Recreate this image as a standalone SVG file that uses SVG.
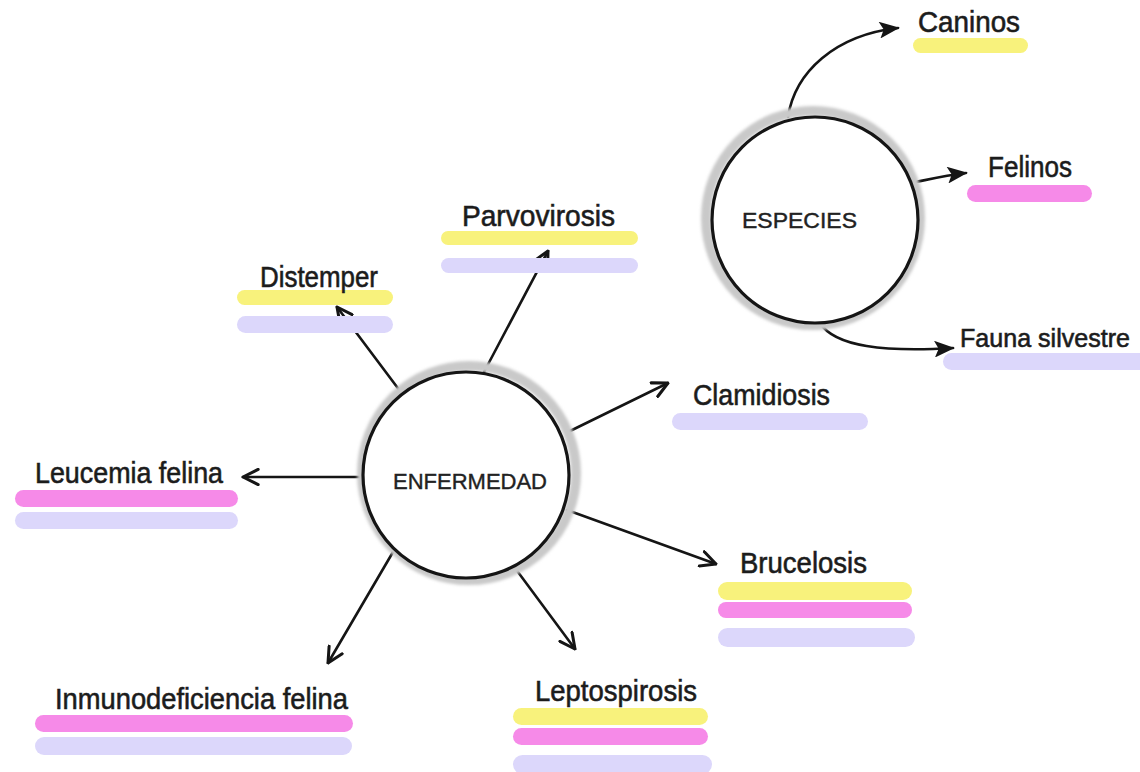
<svg xmlns="http://www.w3.org/2000/svg" width="1140" height="772" viewBox="0 0 1140 772">
<defs>
<style>
.lbl{font-family:"Liberation Sans","DejaVu Sans",sans-serif;font-size:30px;fill:#1c1c1c;stroke:#1c1c1c;stroke-width:0.6;}
.ctr{font-family:"Liberation Sans","DejaVu Sans",sans-serif;font-size:22px;fill:#222;stroke:#222;stroke-width:0.4;}
.y{fill:#f8f27c;}
.p{fill:#f68ae8;}
.l{fill:#dcd7fb;}
.edge{fill:none;stroke:#151515;stroke-width:2.6;stroke-linecap:round;}
.ring{fill:#fff;stroke:#151515;stroke-width:3.2;}
.shadow{fill:none;stroke:#c9c9c9;stroke-width:10;}
</style>
<marker id="open" viewBox="0 0 12 12" refX="11" refY="6" markerWidth="7" markerHeight="7" markerUnits="strokeWidth" orient="auto">
<path d="M1,1 L11,6 L1,11" fill="none" stroke="#151515" stroke-width="2" stroke-linecap="round" stroke-linejoin="round"/>
</marker>
<marker id="solid" viewBox="0 0 12 10" refX="11" refY="5" markerWidth="8" markerHeight="6.5" markerUnits="strokeWidth" orient="auto">
<path d="M0,0 L12,5 L0,10 L2.5,5 Z" fill="#151515"/>
</marker>
<filter id="blur" x="-20%" y="-20%" width="140%" height="140%"><feGaussianBlur stdDeviation="1.5"/></filter>
</defs>
<rect width="1140" height="772" fill="#fff"/>

<g id="connectors">
<line class="edge" x1="400" y1="391" x2="337" y2="307" marker-end="url(#open)"/>
<line class="edge" x1="484" y1="372" x2="548" y2="251" marker-end="url(#open)"/>
<line class="edge" x1="568" y1="432" x2="668" y2="383" marker-end="url(#open)"/>
<line class="edge" x1="363" y1="477" x2="243" y2="477" marker-end="url(#open)"/>
<line class="edge" x1="567" y1="510" x2="716" y2="564" marker-end="url(#open)"/>
<line class="edge" x1="515" y1="568" x2="575" y2="649" marker-end="url(#open)"/>
<line class="edge" x1="393" y1="552" x2="328" y2="663" marker-end="url(#open)"/>
<path class="edge" d="M788,117 C795,72 835,35 898,28" marker-end="url(#solid)"/>
<path class="edge" d="M916,182 C935,178 948,175 966,173" marker-end="url(#solid)"/>
<path class="edge" d="M820,323 C835,347 885,352 953,348" marker-end="url(#solid)"/>
</g>

<g id="enfermedad">
<circle class="shadow" cx="469" cy="473" r="107" filter="url(#blur)"/>
<circle class="ring" cx="466" cy="475" r="103"/>
<text class="ctr" x="393" y="489" textLength="154" lengthAdjust="spacingAndGlyphs">ENFERMEDAD</text>
</g>

<g id="especies">
<circle class="shadow" cx="813" cy="218" r="107" filter="url(#blur)"/>
<circle class="ring" cx="815" cy="220" r="103"/>
<text class="ctr" x="742" y="228" textLength="115" lengthAdjust="spacingAndGlyphs">ESPECIES</text>
</g>

<g id="caninos">
<rect class="y" x="913" y="38" width="115" height="15" rx="7.5"/>
<text class="lbl" x="918" y="32" textLength="102" lengthAdjust="spacingAndGlyphs">Caninos</text>
</g>

<g id="felinos">
<rect class="p" x="967" y="185" width="125" height="17" rx="8.5"/>
<text class="lbl" x="988" y="177" textLength="84" lengthAdjust="spacingAndGlyphs">Felinos</text>
</g>

<g id="fauna-silvestre">
<rect class="l" x="943" y="353" width="210" height="17" rx="8.5"/>
<text class="lbl" x="960" y="347" style="font-size:26px" textLength="170" lengthAdjust="spacingAndGlyphs">Fauna silvestre</text>
</g>

<g id="parvovirosis">
<rect class="y" x="441" y="231" width="197" height="14" rx="7"/>
<rect class="l" x="441" y="258" width="197" height="15" rx="7.5"/>
<text class="lbl" x="462" y="226" textLength="153" lengthAdjust="spacingAndGlyphs">Parvovirosis</text>
</g>

<g id="distemper">
<rect class="y" x="237" y="290" width="156" height="15" rx="7.5"/>
<rect class="l" x="237" y="316" width="156" height="17" rx="8.5"/>
<text class="lbl" x="260" y="287" textLength="118" lengthAdjust="spacingAndGlyphs">Distemper</text>
</g>

<g id="clamidiosis">
<rect class="l" x="672" y="413" width="196" height="17" rx="8.5"/>
<text class="lbl" x="693" y="405" textLength="137" lengthAdjust="spacingAndGlyphs">Clamidiosis</text>
</g>

<g id="leucemia-felina">
<rect class="p" x="15" y="490" width="223" height="17" rx="8.5"/>
<rect class="l" x="15" y="512" width="223" height="17" rx="8.5"/>
<text class="lbl" x="35" y="483" textLength="188" lengthAdjust="spacingAndGlyphs">Leucemia felina</text>
</g>

<g id="brucelosis">
<rect class="y" x="718" y="582" width="194" height="18" rx="9"/>
<rect class="p" x="718" y="602" width="194" height="16" rx="8"/>
<rect class="l" x="718" y="628" width="197" height="19" rx="9.5"/>
<text class="lbl" x="740" y="573" textLength="127" lengthAdjust="spacingAndGlyphs">Brucelosis</text>
</g>

<g id="leptospirosis">
<rect class="y" x="513" y="708" width="195" height="17" rx="8.5"/>
<rect class="p" x="513" y="728" width="195" height="17" rx="8.5"/>
<rect class="l" x="513" y="755" width="199" height="19" rx="9.5"/>
<text class="lbl" x="535" y="701" textLength="162" lengthAdjust="spacingAndGlyphs">Leptospirosis</text>
</g>

<g id="inmunodeficiencia-felina">
<rect class="p" x="35" y="715" width="318" height="17" rx="8.5"/>
<rect class="l" x="35" y="737" width="317" height="18" rx="9"/>
<text class="lbl" x="55" y="709" textLength="293" lengthAdjust="spacingAndGlyphs">Inmunodeficiencia felina</text>
</g>
</svg>
